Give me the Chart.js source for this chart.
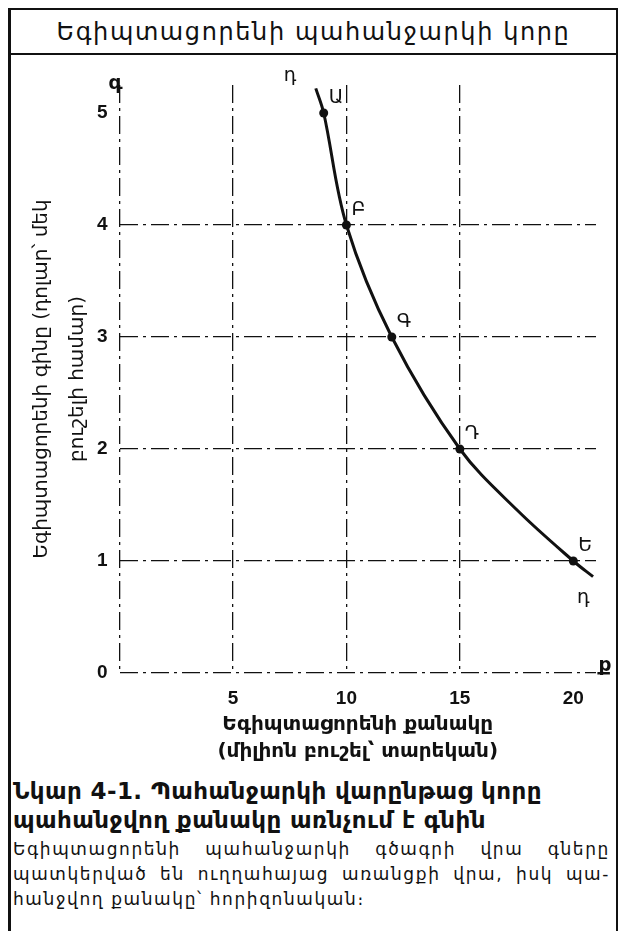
<!DOCTYPE html>
<html>
<head>
<meta charset="utf-8">
<script src="https://cdn.jsdelivr.net/npm/chart.js@4.4.1/dist/chart.umd.min.js"></script>
<style>
  html, body { margin: 0; padding: 0; background: #fff; }
  body { width: 624px; height: 931px; position: relative; overflow: hidden; font-family: "DejaVu Sans", sans-serif; color: #111; }
  .frame { position: absolute; left: 8px; top: 8px; width: 605px; height: 960px; border: 2px solid #111; border-left-width: 3px; border-bottom: none; }
  .title { height: 43px; border-bottom: 2px solid #111; text-align: center; font-size: 24px; line-height: 44px; letter-spacing: 1.6px; }
  #chart { position: absolute; left: 10px; top: 54px; }
  .caption { position: absolute; left: 13px; top: 777px; width: 597px; }
  .cap-head { font-weight: bold; font-size: 23px; line-height: 29px; letter-spacing: 0.4px; }
  .cap-body { margin-top: 2px; font-size: 17px; line-height: 25px; letter-spacing: 1.6px; }
  .cap-body div { text-align: justify; text-align-last: justify; white-space: nowrap; }
  .cap-body div.last { text-align-last: left; }
</style>
</head>
<body>
<div class="frame">
  <div class="title">Եգիպտացորենի պահանջարկի կորը</div>
</div>
<canvas id="chart" width="607" height="716"></canvas>
<div class="caption">
  <div class="cap-head">Նկար 4-1. Պահանջարկի վարընթաց կորը<br>պահանջվող քանակը առնչում է գնին</div>
  <div class="cap-body">
    <div>Եգիպտացորենի պահանջարկի գծագրի վրա գները</div>
    <div>պատկերված են ուղղահայաց առանցքի վրա, իսկ պա-</div>
    <div class="last">հանջվող քանակը՝ հորիզոնական։</div>
  </div>
</div>
<script>
// demand schedule, points A..E
const quantity = [9, 10, 12, 15, 20];
const price = [5, 4, 3, 2, 1];
const pointNames = ["Ա", "Բ", "Գ", "Դ", "Ե"];
// the drawn curve (runs a bit past A and E)
const curveX = [8.65, 9, 10, 12, 15, 17.52, 20, 20.87];
const curveY = [5.22, 5, 4, 3, 2, 1.455, 1, 0.86];
const curveName = "դ";
const axisLetters = ["գ", "ք"];
const xTickValues = [5, 10, 15, 20];
const xGridValues = [0, 5, 10, 15];
const yGridValues = [0, 1, 2, 3, 4];
const xTitle = ["Եգիպտացորենի քանակը", "(միլիոն բուշել՝ տարեկան)"];
const yTitle = ["Եգիպտացորենի գինը (դոլար՝ մեկ", "բուշելի համար)"];

const ink = "#111";
const dashDot = [18, 5, 3, 5];

// letters next to the points, curve ends and axis ends
const labelPlugin = {
  id: "labels",
  afterDatasetsDraw(chart) {
    const { ctx, chartArea } = chart;
    const x = chart.scales.x;
    const y = chart.scales.y;
    const last = curveX.length - 1;
    ctx.save();
    ctx.fillStyle = ink;
    ctx.font = "19px 'DejaVu Sans'";
    ctx.textAlign = "left";
    ctx.textBaseline = "alphabetic";
    for (let i = 0; i < quantity.length; i++) {
      ctx.fillText(pointNames[i], x.getPixelForValue(quantity[i]) + 5, y.getPixelForValue(price[i]) - 10);
    }
    ctx.fillText(curveName, x.getPixelForValue(curveX[0]) - 32, y.getPixelForValue(curveY[0]) - 7);
    ctx.fillText(curveName, x.getPixelForValue(curveX[last]) - 16, y.getPixelForValue(curveY[last]) + 26);
    ctx.font = "bold 20px 'DejaVu Sans'";
    ctx.textAlign = "center";
    ctx.fillText(axisLetters[0], x.getPixelForValue(0) - 4, chartArea.top + 4);
    ctx.fillText(axisLetters[1], chartArea.right + 9, y.getPixelForValue(0) - 2);
    ctx.restore();
  }
};

const curvePoints = curveX.map((v, i) => ({ x: v, y: curveY[i] }));
const schedulePoints = quantity.map((v, i) => ({ x: v, y: price[i] }));

new Chart(document.getElementById("chart"), {
  type: "line",
  data: {
    datasets: [
      {
        data: curvePoints,
        borderColor: ink,
        borderWidth: 3,
        tension: 0.35,
        fill: false,
        pointRadius: 0,
      },
      {
        data: schedulePoints,
        showLine: false,
        pointRadius: 4.5,
        pointBackgroundColor: ink,
        pointBorderWidth: 0,
      },
    ],
  },
  options: {
    responsive: false,
    animation: false,
    layout: { padding: { top: 31, right: 21, left: 0, bottom: 0 } },
    plugins: { legend: { display: false }, tooltip: { enabled: false } },
    scales: {
      x: {
        type: "linear",
        min: 0,
        max: 21,
        afterFit: (s) => { s.height = 97; },
        ticks: {
          stepSize: 5,
          includeBounds: false,
          autoSkip: false,
          maxRotation: 0,
          padding: 14,
          color: ink,
          font: { family: "'Liberation Sans', Arial", size: 19, weight: "bold" },
          callback: (v) => (xTickValues.includes(v) ? v : ""),
        },
        grid: {
          drawTicks: false,
          lineWidth: 1.3,
          color: (c) => (c.tick && xGridValues.includes(c.tick.value) ? ink : "transparent"),
        },
        border: { display: false, dash: dashDot },
        title: {
          display: true,
          text: xTitle,
          color: ink,
          font: { family: "'DejaVu Sans'", size: 20, weight: "bold", lineHeight: 27 / 20 },
          padding: { top: 0, bottom: 5 },
        },
      },
      y: {
        type: "linear",
        min: 0,
        max: 5.25,
        afterFit: (s) => { s.width = 109.5; },
        ticks: {
          stepSize: 1,
          includeBounds: false,
          padding: 12,
          color: ink,
          font: { family: "'Liberation Sans', Arial", size: 19, weight: "bold" },
        },
        grid: {
          drawTicks: false,
          lineWidth: 1.3,
          color: (c) => (c.tick && yGridValues.includes(c.tick.value) ? ink : "transparent"),
        },
        border: { display: false, dash: dashDot },
        title: {
          display: true,
          text: yTitle,
          color: ink,
          font: { family: "'DejaVu Sans'", size: 20, lineHeight: 36 / 20 },
          padding: { top: 14, bottom: 0 },
        },
      },
    },
  },
  plugins: [labelPlugin],
});
</script>
</body>
</html>
